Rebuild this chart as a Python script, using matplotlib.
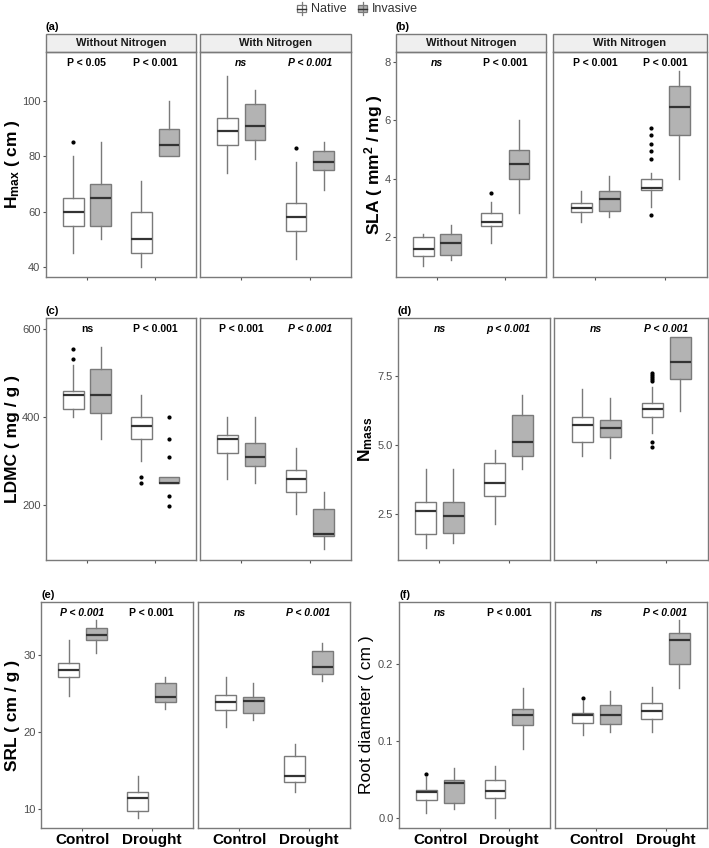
import matplotlib
matplotlib.use("Agg")

import matplotlib.pyplot as plt
from matplotlib.patches import Rectangle

plt.rcParams["font.family"] = ["Liberation Sans", "DejaVu Sans"]
plt.rcParams["mathtext.fontset"] = "custom"
plt.rcParams["mathtext.rm"] = "Liberation Sans"
plt.rcParams["mathtext.bf"] = "Liberation Sans:bold"
plt.rcParams["mathtext.it"] = "Liberation Sans:italic"

# box order in every panel:
# [noN-Control-Native, noN-Control-Invasive, noN-Drought-Native, noN-Drought-Invasive,
#  N-Control-Native,   N-Control-Invasive,   N-Drought-Native,   N-Drought-Invasive]
GROUPS = ["Control", "Drought"]
FACETS = ["Without Nitrogen", "With Nitrogen"]
SPECIES = ["Native", "Invasive"]

# (a) Hmax
HMAX_LO = [45, 50, 40, 80, 74, 79, 43, 68]
HMAX_Q1 = [55, 55, 45, 80, 84, 86, 53, 75]
HMAX_MED = [60, 65, 50, 84, 89, 91, 58, 78]
HMAX_Q3 = [65, 70, 60, 90, 94, 99, 63, 82]
HMAX_HI = [80, 85, 71, 100, 109, 104, 78, 85]
HMAX_OUT = [[85], [], [], [], [], [], [83], []]
HMAX_P = ["P < 0.05", "P < 0.001", "ns", "P < 0.001"]
HMAX_IT = [False, False, True, True]

# (b) SLA
SLA_LO = [1.0, 1.2, 1.8, 2.82, 2.51, 2.7, 3.03, 4.0]
SLA_Q1 = [1.36, 1.38, 2.39, 4.0, 2.86, 2.89, 3.6, 5.49]
SLA_MED = [1.6, 1.8, 2.5, 4.5, 3.0, 3.3, 3.68, 6.47]
SLA_Q3 = [2.0, 2.1, 2.82, 4.98, 3.16, 3.59, 4.0, 7.19]
SLA_HI = [2.1, 2.4, 3.2, 6.0, 3.59, 4.1, 4.19, 7.69]
SLA_OUT = [[], [], [3.5], [], [], [], [5.72, 5.51, 5.19, 4.95, 4.68, 2.76], []]
SLA_P = ["ns", "P < 0.001", "P < 0.001", "P < 0.001"]
SLA_IT = [True, False, False, False]

# (c) LDMC
LDMC_LO = [401, 351, 301, 250, 261, 252, 180, 102]
LDMC_Q1 = [420, 411, 350, 250, 320, 290, 230, 130]
LDMC_MED = [452, 451, 381, 252, 351, 311, 261, 136]
LDMC_Q3 = [461, 509, 400, 264, 361, 341, 280, 192]
LDMC_HI = [519, 561, 451, 264, 400, 400, 331, 231]
LDMC_OUT = [[555, 532], [], [264, 250], [401, 350, 309, 221, 199], [], [], [], []]
LDMC_P = ["ns", "P < 0.001", "P < 0.001", "P < 0.001"]
LDMC_IT = [False, False, False, True]

# (d) Nmass
NMASS_LO = [1.26, 1.44, 2.13, 4.11, 4.61, 4.51, 5.44, 6.21]
NMASS_Q1 = [1.77, 1.83, 3.15, 4.61, 5.11, 5.30, 6.0, 7.39]
NMASS_MED = [2.62, 2.43, 3.63, 5.11, 5.71, 5.62, 6.3, 7.99]
NMASS_Q3 = [2.92, 2.92, 4.33, 6.09, 5.99, 5.90, 6.5, 8.89]
NMASS_HI = [4.11, 4.11, 4.81, 6.8, 7.01, 6.70, 7.1, 8.89]
NMASS_OUT = [[], [], [], [], [], [], [7.6, 7.53, 7.46, 7.39, 7.32, 5.11, 4.91], []]
NMASS_P = ["ns", "p < 0.001", "ns", "P < 0.001"]
NMASS_IT = [True, True, True, True]

# (e) SRL
SRL_LO = [24.7, 30.3, 8.9, 23.0, 20.7, 21.6, 12.2, 26.7]
SRL_Q1 = [27.1, 31.9, 9.8, 23.9, 22.9, 22.5, 13.5, 27.6]
SRL_MED = [28.1, 32.6, 11.5, 24.6, 23.9, 24.0, 14.3, 28.4]
SRL_Q3 = [29.0, 33.5, 12.2, 26.4, 24.8, 24.6, 16.9, 30.5]
SRL_HI = [31.9, 34.5, 14.3, 27.2, 27.1, 26.4, 18.4, 31.6]
SRL_OUT = [[], [], [], [], [], [], [], []]
SRL_P = ["P < 0.001", "P < 0.001", "ns", "P < 0.001"]
SRL_IT = [True, False, True, True]

# (f) root diameter
RD_LO = [0.007, 0.012, 0.001, 0.089, 0.108, 0.111, 0.111, 0.169]
RD_Q1 = [0.024, 0.020, 0.026, 0.120, 0.123, 0.122, 0.128, 0.200]
RD_MED = [0.034, 0.046, 0.035, 0.133, 0.133, 0.134, 0.139, 0.230]
RD_Q3 = [0.037, 0.050, 0.049, 0.141, 0.136, 0.147, 0.149, 0.240]
RD_HI = [0.053, 0.065, 0.067, 0.168, 0.151, 0.165, 0.170, 0.256]
RD_OUT = [[0.057], [], [], [], [0.156], [], [], []]
RD_P = ["ns", "P < 0.001", "ns", "P < 0.001"]
RD_IT = [True, False, True, True]

W, H = 709, 848
EDGE = "#7a7a7a"
FILLS = ["white", "#b3b3b3"]

fig = plt.figure(figsize=(W / 100, H / 100), dpi=100)
fig.patch.set_facecolor("white")


def px_axes(x0, x1, top, bottom):
    return fig.add_axes([x0 / W, 1 - bottom / H, (x1 - x0) / W, (bottom - top) / H])


def draw_panel(letter, ylabel, ylabel_x, left, right, top, bottom, ylim, yticks,
               yfmt, lo, q1, med, q3, hi, out, plabels, pitalic, strip, xlabels):
    for f, (x0, x1) in enumerate([left, right]):
        ax = px_axes(x0, x1, top, bottom)
        stats = []
        for k in range(4):
            i = f * 4 + k
            stats.append(dict(med=med[i], q1=q1[i], q3=q3[i],
                              whislo=lo[i], whishi=hi[i], fliers=out[i]))
        positions = [g + (-0.2 if s == 0 else 0.2) for g in (1, 2) for s in (0, 1)]
        res = ax.bxp(stats, positions=positions, widths=0.3, patch_artist=True,
                     showcaps=False,
                     boxprops=dict(edgecolor=EDGE, linewidth=1.0),
                     whiskerprops=dict(color=EDGE, linewidth=1.0),
                     medianprops=dict(color="#333333", linewidth=1.6),
                     flierprops=dict(marker="o", markersize=2.0,
                                     markerfacecolor="black",
                                     markeredgecolor="black"))
        for k, box in enumerate(res["boxes"]):
            box.set_facecolor(FILLS[k % 2])

        ax.set_xlim(0.4, 2.6)
        ax.set_ylim(*ylim)
        ax.set_xticks([1, 2])
        if xlabels:
            ax.set_xticklabels(GROUPS, fontsize=11, fontweight="bold", color="black")
        else:
            ax.set_xticklabels([])
        ax.set_yticks(yticks)
        if f == 0:
            ax.set_yticklabels([yfmt.format(v) for v in yticks], fontsize=8,
                               color="#4d4d4d")
            ax.tick_params(axis="y", length=2.5, color="#555555", pad=1.5)
        else:
            ax.tick_params(axis="y", length=0, labelleft=False)
        ax.tick_params(axis="x", length=2.5, color="#555555", pad=1)
        for sp in ax.spines.values():
            sp.set_color(EDGE)
            sp.set_linewidth(1.0)

        for g in range(2):
            ax.annotate(plabels[f * 2 + g], xy=(g + 1, 1),
                        xycoords=("data", "axes fraction"),
                        xytext=(0, -8), textcoords="offset points",
                        ha="center", va="center", fontsize=7.5, fontweight="bold",
                        fontstyle="italic" if pitalic[f * 2 + g] else "normal")

        if strip:
            ax.add_patch(Rectangle((0, 1), 1, 18 / (bottom - top),
                                   transform=ax.transAxes, clip_on=False,
                                   facecolor="#efefef", edgecolor=EDGE, linewidth=1.0))
            ax.text(0.5, 1 + 9 / (bottom - top), FACETS[f], transform=ax.transAxes,
                    ha="center", va="center", fontsize=8, fontweight="bold",
                    color="#1a1a1a")

    label_top = top - (18 if strip else 0) - 7
    fig.text(left[0] / W, 1 - label_top / H, letter, ha="left", va="center",
             fontsize=8, fontweight="bold")
    fig.text(ylabel_x / W, 1 - (top + bottom) / 2 / H, ylabel, rotation=90,
             ha="center", va="center", fontsize=12.5,
             fontweight="normal" if ylabel.startswith("Root") else "bold")


draw_panel("(a)", r"H$_{\mathbf{max}}$ ( cm )", 13, (46, 196), (200, 351), 52, 277,
           (36.4, 117.7), [40, 60, 80, 100], "{:.0f}",
           HMAX_LO, HMAX_Q1, HMAX_MED, HMAX_Q3, HMAX_HI, HMAX_OUT,
           HMAX_P, HMAX_IT, True, False)
draw_panel("(b)", r"SLA ( mm$^{\mathbf{2}}$ / mg )", 374, (396, 546), (553, 707), 52, 277,
           (0.63, 8.34), [2, 4, 6, 8], "{:.0f}",
           SLA_LO, SLA_Q1, SLA_MED, SLA_Q3, SLA_HI, SLA_OUT,
           SLA_P, SLA_IT, True, False)
draw_panel("(c)", "LDMC ( mg / g )", 13, (46, 196), (200, 351), 318, 560,
           (76, 626), [200, 400, 600], "{:.0f}",
           LDMC_LO, LDMC_Q1, LDMC_MED, LDMC_Q3, LDMC_HI, LDMC_OUT,
           LDMC_P, LDMC_IT, False, False)
draw_panel("(d)", r"N$_{\mathbf{mass}}$", 366, (398, 550), (554, 708), 318, 560,
           (0.84, 9.58), [2.5, 5.0, 7.5], "{:.1f}",
           NMASS_LO, NMASS_Q1, NMASS_MED, NMASS_Q3, NMASS_HI, NMASS_OUT,
           NMASS_P, NMASS_IT, False, False)
draw_panel("(e)", "SRL ( cm / g )", 13, (41, 193), (198, 350), 602, 828,
           (7.54, 36.9), [10, 20, 30], "{:.0f}",
           SRL_LO, SRL_Q1, SRL_MED, SRL_Q3, SRL_HI, SRL_OUT,
           SRL_P, SRL_IT, False, True)
draw_panel("(f)", "Root diameter ( cm )", 367, (399, 550), (555, 707), 602, 828,
           (-0.0125, 0.2795), [0.0, 0.1, 0.2], "{:.1f}",
           RD_LO, RD_Q1, RD_MED, RD_Q3, RD_HI, RD_OUT,
           RD_P, RD_IT, False, True)

# legend at the top
leg = fig.add_axes([0, 0, 1, 1], zorder=-1)
leg.set_xlim(0, W)
leg.set_ylim(H, 0)
leg.axis("off")
for name, fill, x in zip(SPECIES, FILLS, [297, 358]):
    leg.plot([x + 4.5, x + 4.5], [2, 15], color=EDGE, lw=0.9)
    leg.add_patch(Rectangle((x, 5), 9, 7, facecolor=fill, edgecolor=EDGE, lw=0.9))
    leg.plot([x, x + 9], [8.5, 8.5], color="#333333", lw=1.0)
    leg.text(x + 14, 8.5, name, ha="left", va="center", fontsize=9, color="#333333")

fig.savefig("out.png", dpi=100)
